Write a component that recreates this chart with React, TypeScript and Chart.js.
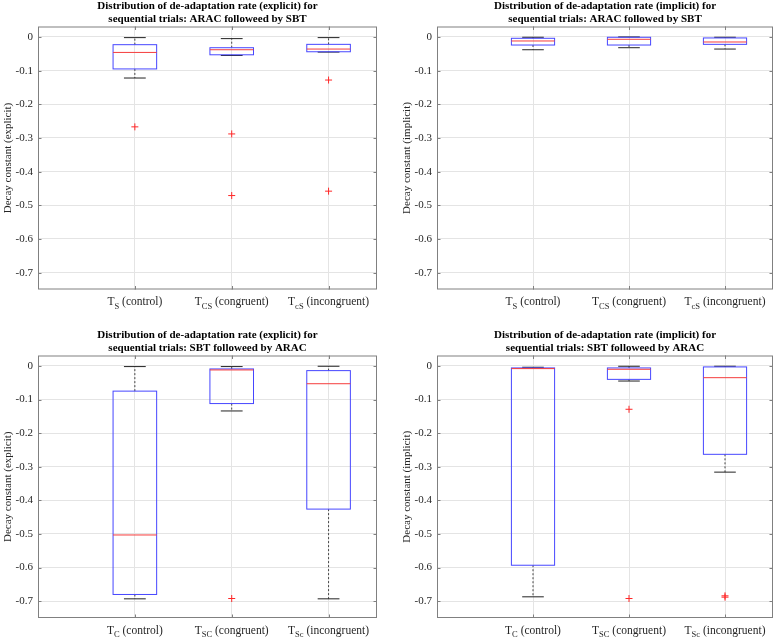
import React, { useEffect, useRef } from "react";
import { Chart, registerables } from "chart.js";

Chart.register(...registerables);

// ---------- data ----------
const Y_TICKS = [0, -0.1, -0.2, -0.3, -0.4, -0.5, -0.6, -0.7];
const Y_MIN = -0.75;
const Y_MAX = 0.031;
const X_POS = [1, 2, 3];
const X_MIN = 0;
const X_MAX = 3.5;
const BOX_W = 0.45;

// category labels: [base, subscript, rest]
const CATS_ARAC_SBT = [
  ["T", "S", " (control)"],
  ["T", "CS", " (congruent)"],
  ["T", "cS", " (incongruent)"],
];
const CATS_SBT_ARAC = [
  ["T", "C", " (control)"],
  ["T", "SC", " (congruent)"],
  ["T", "Sc", " (incongruent)"],
];

// Panel 1: explicit, ARAC followed by SBT
const P1_UPPER = [-0.002, -0.005, -0.002];
const P1_Q3 = [-0.023, -0.032, -0.022];
const P1_MED = [-0.046, -0.038, -0.036];
const P1_Q1 = [-0.095, -0.053, -0.044];
const P1_LOWER = [-0.122, -0.055, -0.045];
const P1_OUT = [[-0.267], [-0.288, -0.471], [-0.128, -0.458]];

// Panel 2: implicit, ARAC followed by SBT
const P2_UPPER = [-0.001, 0.0, -0.001];
const P2_Q3 = [-0.004, -0.001, -0.003];
const P2_MED = [-0.012, -0.007, -0.015];
const P2_Q1 = [-0.024, -0.024, -0.022];
const P2_LOWER = [-0.038, -0.032, -0.036];
const P2_OUT: number[][] = [[], [], []];

// Panel 3: explicit, SBT followed by ARAC
const P3_UPPER = [-0.002, -0.002, -0.001];
const P3_Q3 = [-0.075, -0.009, -0.014];
const P3_MED = [-0.503, -0.012, -0.053];
const P3_Q1 = [-0.68, -0.112, -0.426];
const P3_LOWER = [-0.693, -0.134, -0.693];
const P3_OUT: number[][] = [[], [-0.692], []];

// Panel 4: implicit, SBT followed by ARAC
const P4_UPPER = [-0.004, -0.001, -0.001];
const P4_Q3 = [-0.006, -0.006, -0.003];
const P4_MED = [-0.008, -0.01, -0.035];
const P4_Q1 = [-0.593, -0.04, -0.263];
const P4_LOWER = [-0.687, -0.045, -0.316];
const P4_OUT: number[][] = [[], [-0.129, -0.692], [-0.684, -0.688]];

// ---------- styles ----------
const SERIF = '"Liberation Serif", "Times New Roman", serif';
const TEXT_COLOR = "#262626";
const AXIS_COLOR = "#808080";
const GRID_COLOR = "#e4e4e4";
const BOX_COLOR = "rgb(70,70,255)";
const MED_COLOR = "rgb(245,60,60)";
const OUT_COLOR = "rgb(255,40,40)";
const CAP_COLOR = "#222222";

type PanelProps = {
  left: number;
  top: number;
  w: number;
  h: number;
  plot: { l: number; t: number; r: number; b: number };
  title: string[];
  ylabel: string;
  cats: string[][];
  upper: number[];
  q3: number[];
  med: number[];
  q1: number[];
  lower: number[];
  outliers: number[][];
};

function Panel(p: PanelProps) {
  const ref = useRef<HTMLCanvasElement | null>(null);
  useEffect(() => {
    const canvas = ref.current;
    if (!canvas) return;
    const yW = 34;
    const boxPlugin = {
      id: "boxes",
      beforeDatasetsDraw(chart: any) {
        const ctx = chart.ctx;
        const xs = chart.scales.x;
        const ys = chart.scales.y;
        const half = (xs.getPixelForValue(BOX_W) - xs.getPixelForValue(0)) / 2;
        const capHalf = half / 2;
        ctx.save();
        for (let i = 0; i < X_POS.length; i++) {
          const cx = xs.getPixelForValue(X_POS[i]);
          const yU = ys.getPixelForValue(p.upper[i]);
          const y3 = ys.getPixelForValue(p.q3[i]);
          const yM = ys.getPixelForValue(p.med[i]);
          const y1 = ys.getPixelForValue(p.q1[i]);
          const yL = ys.getPixelForValue(p.lower[i]);
          // whiskers
          ctx.lineWidth = 1;
          ctx.strokeStyle = "#444444";
          ctx.setLineDash([2, 2]);
          ctx.beginPath();
          ctx.moveTo(cx, y3);
          ctx.lineTo(cx, yU);
          ctx.moveTo(cx, y1);
          ctx.lineTo(cx, yL);
          ctx.stroke();
          ctx.setLineDash([]);
          // caps
          ctx.strokeStyle = CAP_COLOR;
          ctx.beginPath();
          ctx.moveTo(cx - capHalf, yU);
          ctx.lineTo(cx + capHalf, yU);
          ctx.moveTo(cx - capHalf, yL);
          ctx.lineTo(cx + capHalf, yL);
          ctx.stroke();
          // box
          ctx.strokeStyle = BOX_COLOR;
          ctx.strokeRect(cx - half, y3, 2 * half, y1 - y3);
          // median
          ctx.strokeStyle = MED_COLOR;
          ctx.beginPath();
          ctx.moveTo(cx - half, yM);
          ctx.lineTo(cx + half, yM);
          ctx.stroke();
        }
        ctx.restore();
      },
      afterDraw(chart: any) {
        const ctx = chart.ctx;
        const xs = chart.scales.x;
        const ys = chart.scales.y;
        const a = chart.chartArea;
        ctx.save();
        // frame
        ctx.strokeStyle = AXIS_COLOR;
        ctx.lineWidth = 1;
        ctx.strokeRect(a.left + 0.5, a.top + 0.5, a.right - a.left - 1, a.bottom - a.top - 1);
        // inward tick marks
        const tl = 3.5;
        ctx.beginPath();
        for (const v of Y_TICKS) {
          const y = Math.round(ys.getPixelForValue(v)) + 0.5;
          ctx.moveTo(a.left, y);
          ctx.lineTo(a.left + tl, y);
          ctx.moveTo(a.right, y);
          ctx.lineTo(a.right - tl, y);
        }
        for (const v of X_POS) {
          const x = Math.round(xs.getPixelForValue(v)) + 0.5;
          ctx.moveTo(x, a.bottom);
          ctx.lineTo(x, a.bottom - tl);
          ctx.moveTo(x, a.top);
          ctx.lineTo(x, a.top + tl);
        }
        ctx.stroke();
        // title
        ctx.fillStyle = "#000000";
        ctx.font = `bold 11px ${SERIF}`;
        ctx.textAlign = "center";
        ctx.textBaseline = "middle";
        const tx = (a.left + a.right) / 2;
        ctx.fillText(p.title[0], tx, a.top - 20);
        ctx.fillText(p.title[1], tx, a.top - 7.5);
        // y label
        ctx.fillStyle = TEXT_COLOR;
        ctx.font = `11px ${SERIF}`;
        ctx.save();
        ctx.translate(p.plot.l - 30, (a.top + a.bottom) / 2);
        ctx.rotate(-Math.PI / 2);
        ctx.textAlign = "center";
        ctx.textBaseline = "middle";
        ctx.fillText(p.ylabel, 0, 0);
        ctx.restore();
        // x labels with subscripts
        ctx.textAlign = "left";
        ctx.textBaseline = "alphabetic";
        const mainFont = `11.5px ${SERIF}`;
        const subFont = `8.5px ${SERIF}`;
        const by = a.bottom + 15.5;
        for (let i = 0; i < X_POS.length; i++) {
          const [base, sub, rest] = p.cats[i];
          ctx.font = mainFont;
          const w1 = ctx.measureText(base).width;
          const w3 = ctx.measureText(rest).width;
          ctx.font = subFont;
          const w2 = ctx.measureText(sub).width;
          const cx = xs.getPixelForValue(X_POS[i]);
          let x = cx - (w1 + w2 + w3) / 2;
          ctx.font = mainFont;
          ctx.fillText(base, x, by);
          x += w1;
          ctx.font = subFont;
          ctx.fillText(sub, x, by + 3.5);
          x += w2;
          ctx.font = mainFont;
          ctx.fillText(rest, x, by);
        }
        ctx.restore();
      },
    };

    const points: { x: number; y: number }[] = [];
    p.outliers.forEach((arr, i) => arr.forEach((v) => points.push({ x: X_POS[i], y: v })));

    const chart = new Chart(canvas, {
      type: "scatter",
      data: {
        datasets: [
          {
            data: points,
            pointStyle: "cross",
            radius: 3.5,
            borderColor: OUT_COLOR,
            backgroundColor: OUT_COLOR,
            borderWidth: 1,
          } as any,
        ],
      },
      options: {
        animation: false,
        responsive: false,
        maintainAspectRatio: false,
        layout: {
          padding: {
            left: p.plot.l - yW,
            top: p.plot.t,
            right: p.w - p.plot.r,
            bottom: p.h - p.plot.b,
          },
        },
        plugins: {
          legend: { display: false },
          tooltip: { enabled: false },
          title: { display: false },
        },
        scales: {
          x: {
            type: "linear",
            min: X_MIN,
            max: X_MAX,
            afterBuildTicks: (s: any) => {
              s.ticks = X_POS.map((v) => ({ value: v }));
            },
            afterFit: (s: any) => {
              s.height = 0;
            },
            ticks: { display: false },
            grid: { color: GRID_COLOR, drawTicks: false },
            border: { display: false },
          },
          y: {
            type: "linear",
            min: Y_MIN,
            max: Y_MAX,
            afterBuildTicks: (s: any) => {
              s.ticks = Y_TICKS.map((v) => ({ value: v }));
            },
            afterFit: (s: any) => {
              s.width = yW;
            },
            ticks: {
              padding: 5,
              color: TEXT_COLOR,
              font: { family: SERIF, size: 11 },
              callback: (v: any) => (Number(v) === 0 ? "0" : Number(v).toFixed(1)),
            },
            grid: { color: GRID_COLOR, drawTicks: false },
            border: { display: false },
          },
        },
      },
      plugins: [boxPlugin],
    } as any);
    return () => chart.destroy();
  }, []);

  return (
    <div style={{ position: "absolute", left: p.left, top: p.top, width: p.w, height: p.h }}>
      <canvas ref={ref} width={p.w} height={p.h} style={{ width: p.w, height: p.h, display: "block" }} />
    </div>
  );
}

export default function App() {
  const W = 391;
  const H = 320;
  const plotL = { l: 38, t: 26.5, r: 377, b: 289.5 };
  const plotR = { l: 46, t: 26.5, r: 382, b: 289.5 };
  const plotLB = { l: 38, t: 35.5, r: 377, b: 298 };
  const plotRB = { l: 46, t: 35.5, r: 382, b: 298 };
  return (
    <div style={{ position: "fixed", left: 0, top: 0, width: 782, height: 640, background: "#ffffff" }}>
      <Panel
        left={0}
        top={0}
        w={W}
        h={H}
        plot={plotL}
        title={["Distribution of de-adaptation rate (explicit) for", "sequential trials: ARAC followeed by SBT"]}
        ylabel="Decay constant (explicit)"
        cats={CATS_ARAC_SBT}
        upper={P1_UPPER}
        q3={P1_Q3}
        med={P1_MED}
        q1={P1_Q1}
        lower={P1_LOWER}
        outliers={P1_OUT}
      />
      <Panel
        left={391}
        top={0}
        w={W}
        h={H}
        plot={plotR}
        title={["Distribution of de-adaptation rate (implicit) for", "sequential trials: ARAC followed by SBT"]}
        ylabel="Decay constant (implicit)"
        cats={CATS_ARAC_SBT}
        upper={P2_UPPER}
        q3={P2_Q3}
        med={P2_MED}
        q1={P2_Q1}
        lower={P2_LOWER}
        outliers={P2_OUT}
      />
      <Panel
        left={0}
        top={320}
        w={W}
        h={H}
        plot={plotLB}
        title={["Distribution of de-adaptation rate (explicit) for", "sequential trials: SBT followeed by ARAC"]}
        ylabel="Decay constant (explicit)"
        cats={CATS_SBT_ARAC}
        upper={P3_UPPER}
        q3={P3_Q3}
        med={P3_MED}
        q1={P3_Q1}
        lower={P3_LOWER}
        outliers={P3_OUT}
      />
      <Panel
        left={391}
        top={320}
        w={W}
        h={H}
        plot={plotRB}
        title={["Distribution of de-adaptation rate (implicit) for", "sequential trials: SBT followeed by ARAC"]}
        ylabel="Decay constant (implicit)"
        cats={CATS_SBT_ARAC}
        upper={P4_UPPER}
        q3={P4_Q3}
        med={P4_MED}
        q1={P4_Q1}
        lower={P4_LOWER}
        outliers={P4_OUT}
      />
    </div>
  );
}
